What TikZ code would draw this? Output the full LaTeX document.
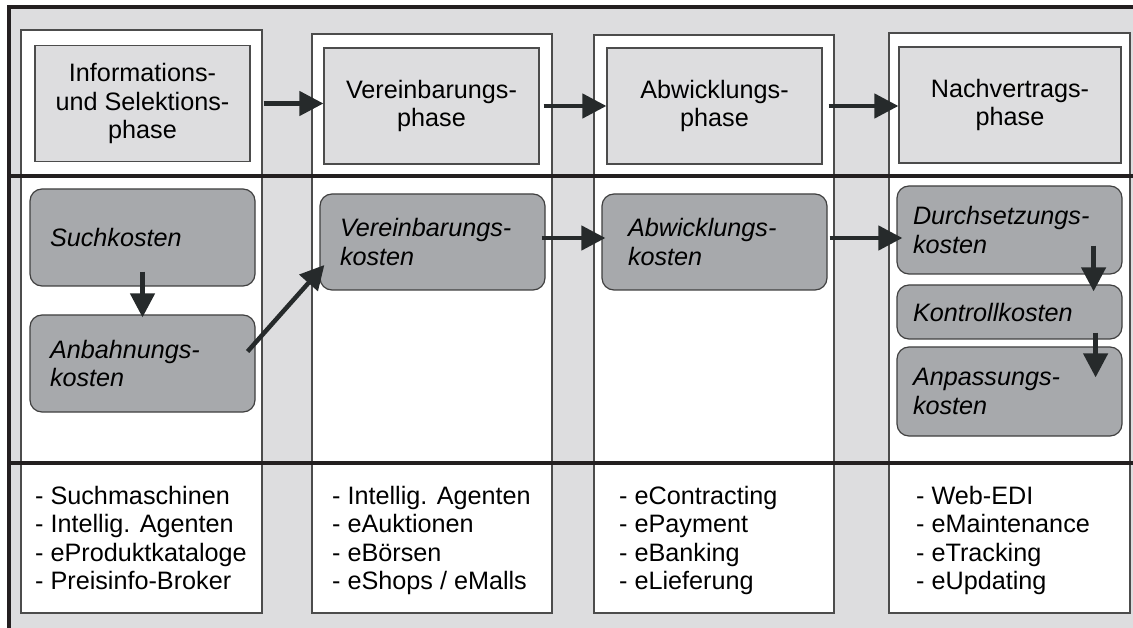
\documentclass[tikz,border=0pt]{standalone}
\usepackage{fontspec}
\setmainfont{Liberation Sans}
\usetikzlibrary{calc}
\usetikzlibrary{arrows.meta}
\definecolor{bggray}{RGB}{221,221,223}
\definecolor{costgray}{RGB}{167,169,172}
\definecolor{linedark}{RGB}{35,31,32}
\definecolor{arrowdark}{RGB}{38,42,43}
\newcommand\figfont{\fontsize{25.2}{28.3}\selectfont}

\begin{document}
\begin{tikzpicture}[x=1pt,y=-1pt,
  panel/.style={draw=black!70,line width=1.2pt,fill=white},
  phasebox/.style={draw=black!70,line width=1.2pt,fill=bggray,minimum width=215pt,minimum height=116pt,align=center,inner sep=0pt,font=\figfont},
  costbox/.style={draw=black!75,line width=1.2pt,fill=costgray,rounded corners=12pt,align=left,inner xsep=20pt,text width=185pt,font=\figfont\itshape},
  sepline/.style={linedark,line width=3.5pt},
  arr/.style={arrowdark,line width=4.5pt,-{Triangle[length=24pt,width=24pt]}},
  toollist/.style={anchor=north west,inner sep=0pt,align=left,font=\figfont}]
\useasboundingbox (0,0) rectangle (1133,628);
\fill[bggray] (9,7) rectangle (1133,628);
\draw[panel] (21,30) rectangle (262,613);
\draw[panel] (312,34) rectangle (552,613);
\draw[panel] (594,35) rectangle (834,613);
\draw[panel] (889,33) rectangle (1130,613);
\draw[sepline] (9,628) --++(0,-621) --++(1124,0);
\draw[sepline] (9,176) --++(1124,0);
\draw[sepline] (9,463) --++(1124,0);

\node[phasebox] (pha1) at (142.5,103.5) {Informations-\\und Selektions-\\phase};
\node[phasebox] (pha2) at (431.5,106) {Vereinbarungs-\\phase};
\node[phasebox] (pha3) at (714.5,106) {Abwicklungs-\\phase};
\node[phasebox, minimum width=222pt] (pha4) at (1010,105) {Nachvertrags-\\phase};
\draw[arr] ([xshift=13pt]pha1.east) -- (pha1.east -| pha2.west);
\draw[arr] ([xshift=4pt]pha2.east) -- (pha2.east -| pha3.west);
\draw[arr] ([xshift=6pt]pha3.east) -- (pha3.east -| pha4.west);

\node[costbox, minimum width=225pt, minimum height=97pt] (such) at (142.5,237.5) {Suchkosten};
\node[costbox, minimum width=225pt, minimum height=97pt] (anb) at (142.5,363.5) {Anbahnungs-\\kosten};
\node[costbox, minimum width=225pt, minimum height=96pt] (ver) at (432.5,242) {Vereinbarungs-\\kosten};
\node[costbox, minimum width=225pt, minimum height=96pt, inner xsep=26pt, text width=173pt] (abw) at (714.5,242) {Abwicklungs-\\kosten};
\node[costbox, minimum width=225pt, minimum height=88pt, inner xsep=16pt, text width=193pt] (dur) at (1009.5,230) {Durchsetzungs-\\kosten};
\node[costbox, minimum width=225pt, minimum height=54pt, inner xsep=16pt, text width=193pt] (kon) at (1009.5,312) {Kontrollkosten};
\node[costbox, minimum width=225pt, minimum height=89pt, inner xsep=16pt, text width=193pt] (anp) at (1009.5,391.5) {Anpassungs-\\kosten};
\draw[arr] ([yshift=15pt]such.south) -- ([yshift=-3pt]anb.north);
\draw[arr] ([xshift=-8pt,yshift=12pt]anb.east) -- ([xshift=5pt,yshift=-23pt]ver.west);
\draw[arr] ([xshift=-4pt,yshift=4pt]ver.east) -- ([xshift=4pt,yshift=4pt]abw.west);
\draw[arr] ([xshift=2pt,yshift=4pt]abw.east) -- ($(abw.east -| dur.west)+(6,-4)$);
\draw[arr] ([xshift=-29pt,yshift=29pt]dur.south east) -- ([xshift=-29pt,yshift=-7pt]kon.north east);
\draw[arr] ([xshift=-27pt,yshift=7pt]kon.south east) -- ([xshift=-27pt,yshift=-31pt]anp.north east);

\node[toollist] (tool1) at (35,486) {- Suchmaschinen\\- Intellig. Agenten\\- eProduktkataloge\\- Preisinfo-Broker};
\node[toollist] (tool2) at (332,486) {- Intellig. Agenten\\- eAuktionen\\- eBörsen\\- eShops / eMalls};
\node[toollist] (tool3) at (619,486) {- eContracting\\- ePayment\\- eBanking\\- eLieferung};
\node[toollist] (tool4) at (916,486) {- Web-EDI\\- eMaintenance\\- eTracking\\- eUpdating};
\end{tikzpicture}
\end{document}
